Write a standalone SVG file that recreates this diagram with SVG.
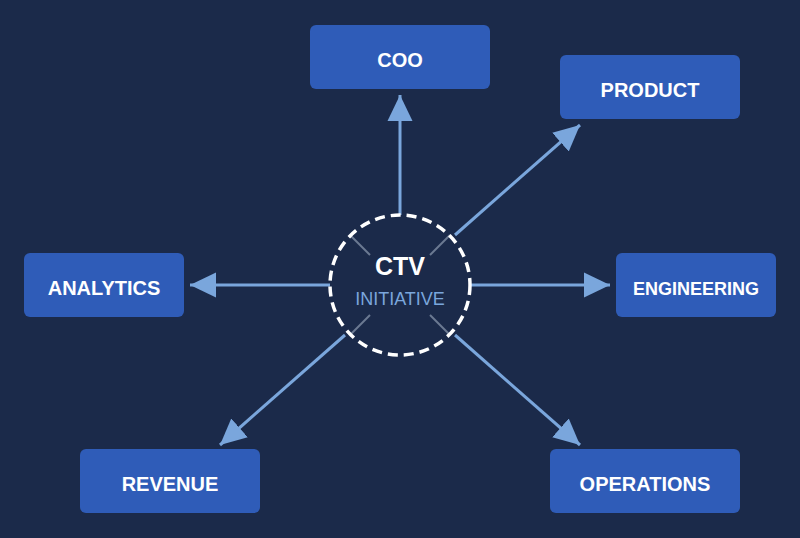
<svg xmlns="http://www.w3.org/2000/svg" width="800" height="538" viewBox="0 0 800 538">
<style>
.box{fill:#2f5cb8}
.lbl{font-family:"Liberation Sans",Arial,sans-serif;font-weight:bold;fill:#ffffff;text-anchor:middle}
.conn{stroke:#7aa6dc;stroke-width:3;fill:none;marker-end:url(#ah)}
.tick{stroke:#6b7a92;stroke-width:2}
</style>
<defs>
<marker id="ah" markerUnits="userSpaceOnUse" markerWidth="28" markerHeight="28" viewBox="0 0 28 28" refX="26" refY="14" orient="auto">
<path d="M0,1.5 L26,14 L0,26.5 Z" fill="#7aa6dc"/>
</marker>
</defs>
<rect width="800" height="538" fill="#1b2a4a"/>
<g id="connectors">
<line class="conn" x1="400" y1="215" x2="400" y2="95"/>
<line class="conn" x1="455" y1="235" x2="580" y2="125"/>
<line class="conn" x1="330" y1="285" x2="190" y2="285"/>
<line class="conn" x1="470" y1="285" x2="610" y2="285"/>
<line class="conn" x1="345" y1="335" x2="220" y2="445"/>
<line class="conn" x1="455" y1="335" x2="580" y2="445"/>
</g>
<g id="center">
<line class="tick" x1="350" y1="235" x2="370" y2="255"/>
<line class="tick" x1="450" y1="235" x2="430" y2="255"/>
<line class="tick" x1="350" y1="335" x2="370" y2="315"/>
<line class="tick" x1="450" y1="335" x2="430" y2="315"/>
<circle cx="400" cy="285" r="70" fill="none" stroke="#ffffff" stroke-width="3.5" stroke-dasharray="10 6"/>
<text class="lbl" x="400" y="275" font-size="25">CTV</text>
<text x="400" y="305" font-size="18" fill="#7aa6dc" text-anchor="middle" font-family="Liberation Sans,Arial,sans-serif">INITIATIVE</text>
</g>
<g id="coo"><rect class="box" x="310" y="25" width="180" height="64" rx="6"/><text class="lbl" x="400" y="67" font-size="20">COO</text></g>
<g id="product"><rect class="box" x="560" y="55" width="180" height="64" rx="6"/><text class="lbl" x="650" y="97" font-size="20">PRODUCT</text></g>
<g id="analytics"><rect class="box" x="24" y="253" width="160" height="64" rx="6"/><text class="lbl" x="104" y="295" font-size="20">ANALYTICS</text></g>
<g id="engineering"><rect class="box" x="616" y="253" width="160" height="64" rx="6"/><text class="lbl" x="696" y="295" font-size="18">ENGINEERING</text></g>
<g id="revenue"><rect class="box" x="80" y="449" width="180" height="64" rx="6"/><text class="lbl" x="170" y="491" font-size="20">REVENUE</text></g>
<g id="operations"><rect class="box" x="550" y="449" width="190" height="64" rx="6"/><text class="lbl" x="645" y="491" font-size="20">OPERATIONS</text></g>
</svg>
